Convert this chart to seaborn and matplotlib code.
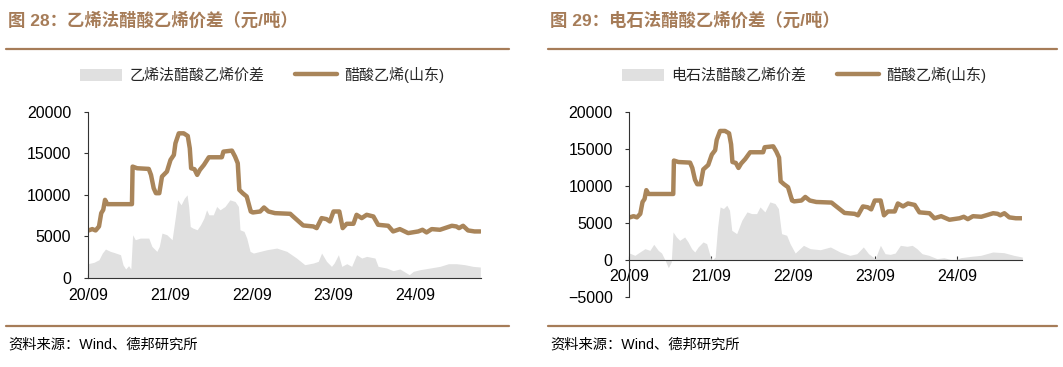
import pandas as pd
import matplotlib
matplotlib.use("Agg")
import matplotlib.pyplot as plt
import matplotlib.dates as mdates
from matplotlib.patches import Patch
from matplotlib.lines import Line2D
import seaborn as sns

# 醋酸乙烯(山东) price, yuan/ton
vam_dates = ["2020-09-01", "2020-09-20", "2020-10-05", "2020-10-20", "2020-10-30", "2020-11-08",
             "2020-11-16", "2020-11-26", "2021-03-16", "2021-03-19", "2021-04-08", "2021-05-30",
             "2021-06-09", "2021-06-21", "2021-07-01", "2021-07-16", "2021-07-28", "2021-08-19",
             "2021-09-04", "2021-09-19", "2021-09-26", "2021-10-11", "2021-11-02", "2021-11-20",
             "2021-11-29", "2021-12-05", "2021-12-20", "2022-01-01", "2022-01-13", "2022-01-31",
             "2022-02-22", "2022-04-21", "2022-04-28", "2022-06-05", "2022-06-19", "2022-07-01",
             "2022-07-08", "2022-07-23", "2022-08-10", "2022-08-28", "2022-09-06", "2022-10-09",
             "2022-10-26", "2022-11-15", "2022-12-14", "2023-02-20", "2023-03-05", "2023-04-19",
             "2023-06-03", "2023-06-18", "2023-07-10", "2023-08-01", "2023-08-16", "2023-09-01",
             "2023-09-27", "2023-10-12", "2023-10-30", "2023-11-29", "2023-12-13", "2024-01-05",
             "2024-01-27", "2024-02-26", "2024-03-18", "2024-05-02", "2024-05-24", "2024-06-23",
             "2024-07-30", "2024-09-13", "2024-10-02", "2024-10-20", "2024-11-12", "2024-12-19",
             "2025-01-10", "2025-02-10", "2025-03-02", "2025-03-14", "2025-04-01", "2025-04-23",
             "2025-05-22", "2025-06-17"]
vam_price = [5700, 5880, 5720, 6200, 7800, 8200, 9400, 8880, 8880, 13400, 13200, 13120,
             12400, 10800, 10200, 10200, 12200, 12800, 14200, 14800, 16200, 17400, 17400, 17080,
             15600, 13200, 13080, 12400, 13000, 13600, 14520, 14520, 15200, 15320, 14600, 13800,
             10600, 10200, 9800, 8000, 7880, 8000, 8480, 8000, 7800, 7720, 7400, 6320,
             6200, 6000, 7200, 7080, 6800, 8000, 8000, 6000, 6520, 6520, 7600, 7200,
             7600, 7400, 6400, 6280, 5600, 5880, 5400, 5600, 5800, 5480, 5880, 5800,
             6000, 6280, 6200, 6000, 6280, 5720, 5600, 5600]

# 乙烯法醋酸乙烯价差
eth_dates = ["2020-09-01", "2020-09-27", "2020-10-20", "2020-11-04", "2020-11-18", "2020-12-10",
             "2020-12-25", "2021-01-24", "2021-02-04", "2021-02-16", "2021-03-01", "2021-03-11",
             "2021-03-19", "2021-03-31", "2021-04-22", "2021-05-30", "2021-06-13", "2021-07-05",
             "2021-07-16", "2021-07-28", "2021-08-19", "2021-09-11", "2021-09-26", "2021-10-06",
             "2021-10-21", "2021-11-05", "2021-11-17", "2021-11-24", "2021-12-01", "2021-12-13",
             "2022-01-01", "2022-01-16", "2022-01-31", "2022-02-12", "2022-02-22", "2022-03-14",
             "2022-03-29", "2022-04-13", "2022-05-05", "2022-05-27", "2022-06-19", "2022-07-04",
             "2022-07-11", "2022-07-29", "2022-08-10", "2022-08-25", "2022-09-09", "2022-10-09",
             "2022-11-08", "2022-12-22", "2023-02-05", "2023-03-20", "2023-04-26", "2023-06-03",
             "2023-06-25", "2023-07-10", "2023-08-01", "2023-08-23", "2023-09-04", "2023-09-23",
             "2023-10-08", "2023-10-30", "2023-11-21", "2023-12-13", "2024-01-05", "2024-01-27",
             "2024-03-04", "2024-03-18", "2024-04-25", "2024-05-24", "2024-06-23", "2024-08-04",
             "2024-08-22", "2024-09-21", "2024-11-05", "2024-12-19", "2025-01-26", "2025-03-02",
             "2025-04-09", "2025-05-15", "2025-06-17"]
eth_spread = [1720, 1880, 2200, 3000, 3480, 3200, 3080, 2800, 1600, 1080, 1480, 1080,
              5200, 4600, 4800, 4800, 3800, 3200, 3800, 5400, 5200, 4600, 7400, 9400,
              8800, 9600, 10000, 8600, 6200, 6000, 5800, 6400, 7200, 8200, 7600, 7600,
              8600, 8200, 8600, 9400, 9200, 8600, 5800, 5600, 4800, 3200, 3000, 3200,
              3400, 3600, 3200, 2400, 1600, 1800, 2000, 3000, 2000, 1400, 1800, 2800,
              1400, 1720, 1400, 2800, 2400, 2600, 2400, 1400, 1200, 880, 1080, 400,
              800, 1000, 1200, 1400, 1720, 1720, 1600, 1400, 1320]

# 电石法醋酸乙烯价差
carb_dates = ["2020-09-01", "2020-09-26", "2020-10-18", "2020-11-10", "2020-12-02", "2020-12-19",
              "2021-01-08", "2021-01-23", "2021-02-08", "2021-02-22", "2021-03-07", "2021-03-15",
              "2021-03-30", "2021-04-14", "2021-05-06", "2021-05-21", "2021-06-06", "2021-06-20",
              "2021-07-05", "2021-07-27", "2021-08-12", "2021-08-27", "2021-09-04", "2021-09-19",
              "2021-09-30", "2021-10-11", "2021-10-26", "2021-11-10", "2021-11-22", "2021-12-02",
              "2021-12-24", "2022-01-16", "2022-02-08", "2022-03-01", "2022-03-23", "2022-04-07",
              "2022-04-29", "2022-05-21", "2022-06-13", "2022-06-28", "2022-07-12", "2022-08-04",
              "2022-08-19", "2022-09-11", "2022-10-18", "2022-11-17", "2023-01-01", "2023-02-15",
              "2023-03-30", "2023-05-13", "2023-06-13", "2023-07-12", "2023-08-04", "2023-09-03",
              "2023-09-26", "2023-10-17", "2023-11-09", "2023-12-01", "2023-12-24", "2024-01-23",
              "2024-02-15", "2024-03-07", "2024-03-30", "2024-04-29", "2024-06-05", "2024-07-05",
              "2024-08-19", "2024-09-18", "2024-11-02", "2024-12-17", "2025-02-08", "2025-03-30",
              "2025-05-13", "2025-06-20"]
carb_spread = [900, 590, 1040, 1490, 1260, 2080, 1260, 900, -90, -1080, -320, 3750,
               3070, 2620, 3070, 2400, 1490, 1040, 1720, 2400, 2170, 590, -90, 360,
               4420, 7130, 6910, 7360, 6680, 3970, 3520, 5330, 6460, 6230, 6230, 7130,
               6460, 7810, 7590, 6910, 3520, 3300, 2170, 900, 1940, 1490, 1350, 1720,
               1040, 590, 810, 1720, 810, 135, 1940, 810, 720, 900, 1940, 1810,
               1940, 1490, 810, 590, 135, 270, -90, 270, 450, 590, 1040, 950,
               590, 360]

LINE_COLOR = "#a9855a"
TITLE_COLOR = "#a67c58"
FILL_COLOR = "#e0e0e0"

sns.set_style("ticks")
plt.rcParams["font.family"] = ["Liberation Sans", "Noto Sans CJK SC"]

vam = pd.DataFrame({"date": pd.to_datetime(vam_dates), "price": vam_price})
eth = pd.DataFrame({"date": pd.to_datetime(eth_dates), "spread": eth_spread})
carb = pd.DataFrame({"date": pd.to_datetime(carb_dates), "spread": carb_spread})

fig = plt.figure(figsize=(10.63, 3.67), dpi=100)


def draw_panel(rect, spread_df, spread_label, ymin, yticks, zero_axis):
    ax = fig.add_axes(rect)
    ax.fill_between(spread_df["date"], spread_df["spread"], 0, color=FILL_COLOR, lw=0)
    sns.lineplot(data=vam, x="date", y="price", ax=ax, color=LINE_COLOR, lw=3.2)
    ax.set_xlim(pd.Timestamp("2020-09-01"), pd.Timestamp("2025-06-20"))
    ax.set_ylim(ymin, 20000)
    ax.set_yticks(yticks)
    ax.set_xlabel("")
    ax.set_ylabel("")
    ax.xaxis.set_major_locator(mdates.MonthLocator(bymonth=9))
    ax.xaxis.set_major_formatter(mdates.DateFormatter("%y/%m"))
    ax.spines["top"].set_visible(False)
    ax.spines["right"].set_visible(False)
    for s in ("left", "bottom"):
        ax.spines[s].set_linewidth(0.8)
        ax.spines[s].set_color("#333333")
    if zero_axis:
        ax.spines["bottom"].set_position(("data", 0))
    ax.tick_params(axis="x", direction="in", length=3, width=0.8, pad=7, labelsize=11.5,
                   colors="#333333", labelcolor="black")
    ax.tick_params(axis="y", direction="out", length=3, width=0.8, pad=9, labelsize=11.5,
                   colors="#333333", labelcolor="black")
    handles = [Patch(facecolor=FILL_COLOR, edgecolor="none", label=spread_label),
               Line2D([0], [0], color=LINE_COLOR, lw=3.2, label="醋酸乙烯(山东)")]
    return ax, handles


ax1, h1 = draw_panel([88 / 1063, 1 - 278 / 367, 393 / 1063, 166.3 / 367],
                     eth, "乙烯法醋酸乙烯价差", 0, [0, 5000, 10000, 15000, 20000], False)
ax2, h2 = draw_panel([629.3 / 1063, 1 - 296.7 / 367, 393 / 1063, 185 / 367],
                     carb, "电石法醋酸乙烯价差", -5000, [-5000, 0, 5000, 10000, 15000, 20000], True)

leg_kw = dict(ncol=2, frameon=False, fontsize=10.8, handlelength=2.8, handleheight=0.9,
              handletextpad=0.5, columnspacing=2.0, borderpad=0, borderaxespad=0,
              loc="center left")
fig.legend(handles=h1, bbox_to_anchor=(80 / 1063, 1 - 75 / 367), **leg_kw)
fig.legend(handles=h2, bbox_to_anchor=(622 / 1063, 1 - 75 / 367), **leg_kw)

# headers and footers
for x0, x1, title in [(6, 509, "图 28：乙烯法醋酸乙烯价差（元/吨）"),
                      (548, 1057, "图 29：电石法醋酸乙烯价差（元/吨）")]:
    fig.text((x0 + 2) / 1063, 1 - 20 / 367, title, fontsize=12.5, fontweight="bold",
             color=TITLE_COLOR, va="center", ha="left")
    fig.add_artist(Line2D([x0 / 1063, x1 / 1063], [1 - 49 / 367, 1 - 49 / 367],
                          color=TITLE_COLOR, lw=1.6))
    fig.add_artist(Line2D([x0 / 1063, x1 / 1063], [1 - 325.5 / 367, 1 - 325.5 / 367],
                          color=TITLE_COLOR, lw=1.6))
    fig.text((x0 + 2) / 1063, 1 - 345 / 367, "资料来源：Wind、德邦研究所", fontsize=10.3,
             color="black", va="center", ha="left")

fig.savefig("out.png", dpi=100)
